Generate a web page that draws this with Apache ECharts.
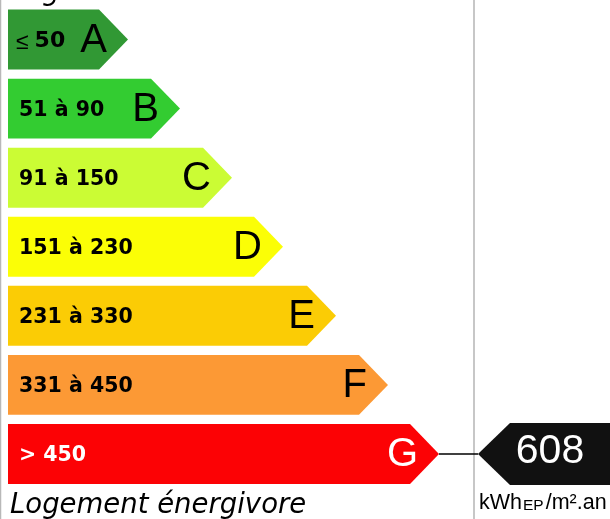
<!DOCTYPE html>
<html>
<head>
<meta charset="utf-8">
<script src="https://cdn.jsdelivr.net/npm/echarts@6/dist/echarts.min.js"></script>
<style>
html,body{margin:0;padding:0;background:#fff;}
#chart{width:610px;height:519px;}
</style>
</head>
<body>
<div id="chart"></div>
<script>
// ---- data ----
const classes = ['A', 'B', 'C', 'D', 'E', 'F', 'G'];
const ranges = ['≤ 50', '51 à 90', '91 à 150', '151 à 230', '231 à 330', '331 à 450', '> 450'];
const barLengths = [120, 172, 224, 275, 328, 380, 431];
const barColors = ['#319834', '#33cc31', '#cbfc34', '#fbfe06', '#fbcc05', '#fc9935', '#fc0205'];
const textColors = ['#000', '#000', '#000', '#000', '#000', '#000', '#fff'];
const consumption = 608;
const consumptionClass = 'G';
const pointerPos = 470;
const unitMain = 'kWh';
const unitSub = 'EP';
const unitTail = '/m².an';
const topTitle = 'Logement économe';
const bottomTitle = 'Logement énergivore';

const chart = echarts.init(document.getElementById('chart'), null, {renderer: 'canvas'});

const barData = classes.map((c, i) => [barLengths[i], c, i]);

const option = {
  animation: false,
  grid: {left: 8, right: 0, top: 5, bottom: 30.5},
  xAxis: {type: 'value', min: 0, max: 602, show: false},
  yAxis: {type: 'category', data: classes, inverse: true, show: false},
  graphic: [
    {type: 'line', shape: {x1: 0.5, y1: 0, x2: 0.5, y2: 519}, style: {stroke: '#b8b8b8', lineWidth: 1.5}, z: 1},
    {type: 'line', shape: {x1: 474, y1: 0, x2: 474, y2: 519}, style: {stroke: '#b4b4b4', lineWidth: 1.5}, z: 1},
    {type: 'text', x: 10, y: -7, style: {text: topTitle, font: 'italic 27.5px "DejaVu Sans"', fill: '#000', align: 'left', verticalAlign: 'middle'}},
    {type: 'text', x: 10, y: 506, style: {text: bottomTitle, font: 'italic 27.5px "DejaVu Sans"', fill: '#000', align: 'left', verticalAlign: 'middle'}},
    {type: 'text', x: 479, y: 502, style: {
      text: '{m|' + unitMain + '}{s|' + unitSub + '}{m|' + unitTail + '}',
      align: 'left', verticalAlign: 'middle',
      rich: {
        m: {fontFamily: '"Liberation Sans", Arial', fontSize: 21.5, fill: '#000', verticalAlign: 'bottom', lineHeight: 24},
        s: {fontFamily: '"Liberation Sans", Arial', fontSize: 15.5, fill: '#000', verticalAlign: 'bottom', lineHeight: 20, padding: [0, 2, 0, 1]}
      }
    }}
  ],
  series: [
    {
      type: 'custom',
      data: barData,
      z: 2,
      renderItem: function (params, api) {
        const idx = api.value(2);
        const cat = api.value(1);
        const start = api.coord([0, cat]);
        const tip = api.coord([api.value(0), cat]);
        const band = api.size([0, 1])[1];
        const h = band * 0.868;
        const cy = tip[1];
        const top = cy - h / 2, bot = cy + h / 2;
        const tl = h / 2 - 1;
        const x0 = start[0];
        const range = ranges[idx];
        let rangeText;
        let lx = x0 + 11;
        if (range.charAt(0) === '≤') {
          lx = x0 + 8;
          rangeText = {
            text: '{le|≤}{n|' + range.slice(1).trim() + '}',
            rich: {
              le: {fontFamily: '"Liberation Sans", Arial', fontSize: 23, fill: textColors[idx], padding: [2, 6, 0, 0]},
              n: {fontFamily: '"DejaVu Sans"', fontWeight: 'bold', fontSize: 22, fill: textColors[idx]}
            }
          };
        } else {
          rangeText = {text: range, font: 'bold 20.5px "DejaVu Sans"', fill: textColors[idx]};
        }
        return {
          type: 'group',
          children: [
            {
              type: 'polygon',
              shape: {points: [[x0, top], [tip[0] - tl, top], [tip[0], cy], [tip[0] - tl, bot], [x0, bot]]},
              style: {fill: barColors[idx]}
            },
            {
              type: 'text',
              style: Object.assign({x: lx, y: cy + 2, align: 'left', verticalAlign: 'middle'}, rangeText)
            },
            {
              type: 'text',
              style: {
                text: classes[idx], x: tip[0] - 21, y: cy + 1.5,
                font: '40px "Liberation Sans", Arial', fill: textColors[idx],
                align: 'right', verticalAlign: 'middle'
              }
            }
          ]
        };
      }
    },
    {
      type: 'custom',
      data: [[pointerPos, consumptionClass, consumption]],
      z: 3,
      renderItem: function (params, api) {
        const cat = api.value(1);
        const p = api.coord([api.value(0), cat]);
        const ci = classes.indexOf(consumptionClass);
        const barTip = api.coord([barLengths[ci], cat]);
        const band = api.size([0, 1])[1];
        const h = band * 0.868 + 2;
        const cy = p[1];
        const right = params.coordSys.x + params.coordSys.width + 10;
        const tl = h / 2 + 1;
        return {
          type: 'group',
          children: [
            {type: 'line', shape: {x1: barTip[0], y1: cy, x2: p[0], y2: cy}, style: {stroke: '#000', lineWidth: 1.5}},
            {
              type: 'polygon',
              shape: {points: [[p[0], cy], [p[0] + tl, cy - h / 2], [right, cy - h / 2], [right, cy + h / 2], [p[0] + tl, cy + h / 2]]},
              style: {fill: '#111'}
            },
            {
              type: 'text',
              style: {
                text: String(api.value(2)), x: 550, y: cy - 2,
                font: '41px "Liberation Sans", Arial', fill: '#fff',
                align: 'center', verticalAlign: 'middle'
              }
            }
          ]
        };
      }
    }
  ]
};
chart.setOption(option);
</script>
</body>
</html>
